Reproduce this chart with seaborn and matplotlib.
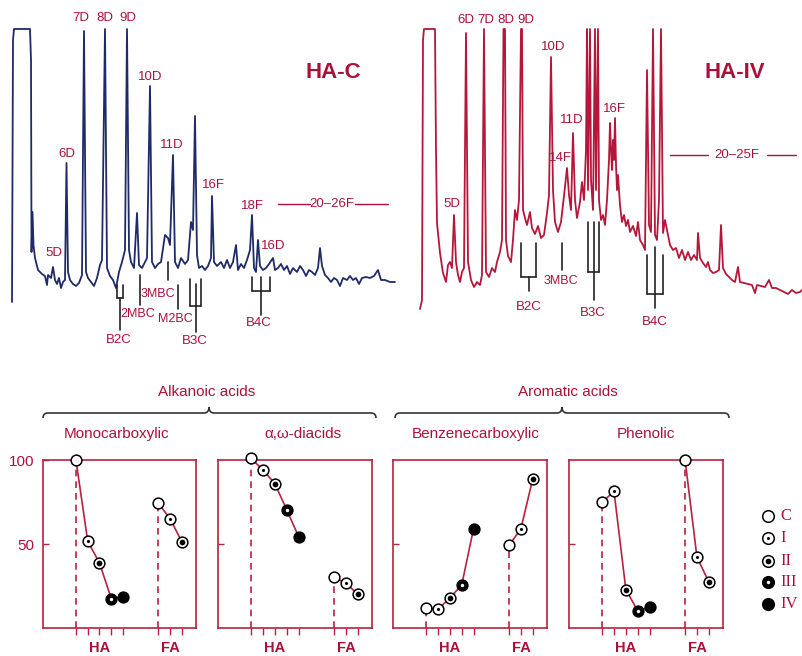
import numpy as np
import pandas as pd
import matplotlib.pyplot as plt
import seaborn as sns
from matplotlib.path import Path
from matplotlib.patches import PathPatch

sns.set_theme(style="white")
plt.rcParams['font.family'] = ['Liberation Sans', 'DejaVu Sans']

# colours
RED_TXT = "#a8123a"
RED_LN = "#b8213f"
NAVY = "#1f2a68"
CRIMSON = "#b5173a"

# ---- chromatogram traces (scan position, detector signal) ----
hac_x = [12, 13, 14, 30, 31, 31.5, 32.5, 33.5, 35, 38, 42, 45, 47, 48, 51, 53, 55, 57, 59, 61,
         63, 65, 66.5, 68, 70, 73, 76, 79, 82, 84, 86, 88, 91, 94, 97, 100, 102, 105, 107, 110,
         113, 116, 119, 122, 125, 127, 129, 131, 134, 137, 139, 142, 145, 147, 150, 152, 155, 158,
         161, 165, 168, 170, 173, 175, 178, 181, 185, 188, 191, 193, 195, 197, 199, 202, 205, 208,
         211, 212, 214, 217, 221, 224, 227, 230, 233, 236, 238, 241, 244, 247, 250, 252, 254, 256,
         258, 260, 263, 266, 269, 273, 275, 278, 281, 284, 287, 290, 293, 297, 300, 303, 306, 309,
         312, 315, 318, 320, 322, 325, 328, 331, 334, 337, 340, 343, 347, 350, 353, 356, 359, 362,
         366, 370, 374, 378, 381, 385, 390, 395]
hac_s = [0, 262, 273, 273, 242, 50, 90, 57, 44, 32, 28, 26, 17, 27, 24, 35, 22, 18, 24, 14,
         20, 22, 139, 30, 22, 18, 16, 19, 27, 271, 30, 24, 20, 16, 24, 37, 42, 273, 34, 26,
         22, 14, 30, 40, 52, 273, 52, 40, 34, 89, 37, 34, 40, 44, 216, 40, 34, 38,
         40, 67, 64, 57, 147, 40, 34, 44, 38, 42, 80, 72, 186, 47, 34, 36, 32, 36,
         44, 106, 40, 36, 40, 34, 42, 34, 40, 57, 32, 38, 34, 42, 52, 87, 34, 30,
         62, 36, 32, 34, 38, 44, 32, 34, 38, 32, 36, 28, 34, 30, 36, 32, 26, 32,
         30, 27, 34, 54, 36, 27, 24, 20, 24, 22, 16, 24, 22, 26, 22, 24, 18, 24,
         25, 24, 26, 32, 22, 22, 20, 20]

haiv_x = [420, 422, 423, 424, 435, 436, 437, 440, 443, 446, 448, 450, 452, 454, 456, 458, 460, 462,
          464, 466, 468, 471, 474, 477, 480, 482, 484, 486, 489, 492, 495, 497, 500, 502, 503.5, 505,
          506, 508, 511, 513, 515, 517, 519, 521, 522, 523, 525, 527, 530, 532, 535, 538, 541, 544,
          547, 549, 551, 553, 555, 558, 561, 564, 567, 569, 571, 573, 575, 577, 580, 582, 584, 586,
          587, 588, 590, 591, 593, 595, 596, 598, 599, 601, 603, 605, 607, 609, 610, 611, 612, 613,
          614, 615, 616, 617, 618, 620, 622, 624, 626, 628, 630, 633, 636, 638, 640, 643, 645, 647,
          649, 651, 653, 655, 657, 659, 661, 663, 665, 668, 670, 673, 676, 679, 682, 685, 688, 691,
          694, 697, 698, 700, 703, 706, 708, 710, 713, 716, 719, 721, 723, 726, 729, 732, 735, 738,
          740, 744, 748, 752, 755, 757, 761, 765, 769, 772, 776, 780, 784, 788, 792, 796, 800, 802]
haiv_s = [-7, 2, 262, 273, 273, 152, 79, 49, 29, 20, 37, 40, 34, 87, 40, 27, 20, 30,
          34, 269, 40, 22, 15, 20, 17, 27, 273, 30, 25, 34, 30, 40, 50, 62, 273, 273,
          62, 46, 40, 62, 92, 82, 102, 273, 273, 92, 84, 77, 90, 74, 68, 76, 64, 67,
          89, 107, 245, 112, 80, 70, 80, 106, 134, 107, 92, 169, 102, 84, 100, 120, 102, 152,
          273, 112, 273, 122, 92, 273, 112, 273, 102, 82, 87, 77, 102, 142, 179, 152, 132, 162,
          142, 184, 137, 112, 127, 97, 80, 87, 76, 82, 70, 76, 66, 80, 62, 57, 52, 232,
          77, 70, 273, 67, 62, 102, 273, 69, 82, 67, 57, 52, 54, 44, 52, 42, 50, 42,
          47, 42, 69, 44, 39, 35, 40, 32, 29, 30, 32, 77, 34, 28, 25, 22, 20, 35,
          20, 19, 18, 17, 9, 17, 16, 15, 22, 14, 14, 12, 10, 8, 12, 9, 10, 12]

# peak labels: (text, scan, signal)
hac_labels = [("7D", 81, 284), ("8D", 105, 284), ("9D", 128, 284), ("10D", 150, 225),
              ("6D", 67, 148), ("11D", 172, 157), ("16F", 213, 117), ("18F", 252, 96),
              ("16D", 273, 56), ("5D", 54, 49)]
haiv_labels = [("6D", 466, 282), ("7D", 486, 282), ("8D", 506, 282), ("9D", 526, 282),
               ("10D", 553, 255), ("11D", 572, 182), ("14F", 560, 144), ("16F", 614, 193),
               ("5D", 452, 98)]

# compound group markers: (label, prong scans, prong top, prong bottom, stem scan, stem top, stem bottom, label pos)
hac_groups = [("B2C", [117, 123], 17, 4, 120, 4, -28, (119, -38)),
              ("2MBC", [], 0, 0, 140, 27, -3, (138, -12)),
              ("3MBC", [], 0, 0, 168, 40, 22, (158, 8)),
              ("M2BC", [], 0, 0, 178, 17, -7, (175, -17)),
              ("B3C", [190, 201], 23, -4, 196, 18, -30, (195, -39)),
              ("B4C", [252, 270], 25, 11, 261, 25, -13, (259, -21))]
haiv_groups = [("B2C", [521, 536], 59, 25, 528.5, 25, 11, (529, -5)),
               ("3MBC", [], 0, 0, 562, 59, 32, (561, 21)),
               ("B3C", [588, 599], 80, 30, 593.5, 80, 2, (593, -11)),
               ("B4C", [647, 663], 47, 8, 655, 55, -6, (655, -20))]

# ---- relative abundance panels ----
levels = ["C", "I", "II", "III", "IV"]
ha_pos = [0, 1, 2, 3, 4]
fa_pos = [7, 8, 9]

mono_ha = [100, 51.6, 38.7, 17.5, 18.5]
mono_fa = [74.2, 65.1, 51.2]
diacid_ha = [101, 94.0, 85.9, 70.4, 54.4]
diacid_fa = [30.2, 26.6, 20.2]
benz_ha = [12.1, 11.1, 17.9, 25.6, 59.1]
benz_fa = [49.2, 59.1, 88.9]
phen_ha = [75.0, 81.3, 22.8, 10.3, 12.3]
phen_fa = [100, 42.3, 27.4]

panel_titles = ["Monocarboxylic", "α,ω-diacids", "Benzenecarboxylic", "Phenolic"]
panel_data = [(mono_ha, mono_fa), (diacid_ha, diacid_fa), (benz_ha, benz_fa), (phen_ha, phen_fa)]

marker_face = {"C": "white", "I": "white", "II": "white", "III": "black", "IV": "black"}
marker_dot = {"C": None, "I": ("black", 5), "II": ("black", 17), "III": ("white", 6), "IV": None}

W, H = 802, 656
fig = plt.figure(figsize=(W / 100, H / 100), dpi=100)


def fig_rect(x0, y0, x1, y1):
    return [x0 / W, 1 - y1 / H, (x1 - x0) / W, (y1 - y0) / H]


def draw_marker(ax, xs, ys, lv, size=60):
    sns.scatterplot(x=xs, y=ys, ax=ax, s=size, color=marker_face[lv], edgecolor="black",
                    linewidth=1.1, zorder=4, clip_on=False, legend=False)
    if marker_dot[lv] is not None:
        c, s = marker_dot[lv]
        sns.scatterplot(x=xs, y=ys, ax=ax, s=s, color=c, linewidth=0, zorder=5,
                        clip_on=False, legend=False)


# ---- top: chromatograms ----
ax_top = fig.add_axes(fig_rect(0, 0, 802, 350))
sns.lineplot(x=hac_x, y=hac_s, sort=False, estimator=None, color=NAVY, lw=1.3, ax=ax_top)
sns.lineplot(x=haiv_x, y=haiv_s, sort=False, estimator=None, color=CRIMSON, lw=1.3, ax=ax_top)
ax_top.set_xlim(0, 802)
ax_top.set_ylim(-48, 302)
ax_top.axis("off")

for lab, x, s in hac_labels + haiv_labels:
    ax_top.text(x, s, lab, color=RED_TXT, fontsize=9.5, ha="center", va="center")

for name, prongs, top, bot, sx, st, sb, (lx, ly) in hac_groups + haiv_groups:
    for px in prongs:
        ax_top.plot([px, px], [top, bot], color="#222222", lw=1.2)
    if prongs:
        ax_top.plot([prongs[0], prongs[-1]], [bot, bot], color="#222222", lw=1.2)
    ax_top.plot([sx, sx], [st, sb], color="#222222", lw=1.2)
    fs = 9.5 if name.startswith("B") else 9
    ax_top.text(lx, ly, name, color=RED_TXT, fontsize=fs, ha="center", va="center")

# range markers for the fatty acid series
ax_top.plot([278, 310], [98, 98], color=RED_TXT, lw=1.0)
ax_top.plot([355, 388], [98, 98], color=RED_TXT, lw=1.0)
ax_top.text(332, 98, "20–26F", color=RED_TXT, fontsize=9.5, ha="center", va="center")
ax_top.plot([670, 708], [147, 147], color=RED_TXT, lw=1.0)
ax_top.plot([767, 796], [147, 147], color=RED_TXT, lw=1.0)
ax_top.text(737, 147, "20–25F", color=RED_TXT, fontsize=9.5, ha="center", va="center")

ax_top.text(333, 230, "HA-C", color=RED_TXT, fontsize=16, fontweight="bold", ha="center", va="center")
ax_top.text(735, 230, "HA-IV", color=RED_TXT, fontsize=16, fontweight="bold", ha="center", va="center")

# ---- bottom: panels ----
panel_px = [(43, 196), (218, 372), (393, 547), (569, 723)]
for i, ((x0, x1), title, (ha_vals, fa_vals)) in enumerate(zip(panel_px, panel_titles, panel_data)):
    ax = fig.add_axes(fig_rect(x0, 460, x1, 628))
    ax.set_xlim(-2.8, 10.2)
    ax.set_ylim(0, 100)
    ax.set_facecolor("white")
    for sp in ax.spines.values():
        sp.set_color(RED_LN)
        sp.set_linewidth(1.2)

    for pos, vals in ((ha_pos, ha_vals), (fa_pos, fa_vals)):
        ax.vlines(pos[0], 0, vals[0], colors=RED_LN, linestyles=(0, (4, 3)), lw=1.2, zorder=2)
        sns.lineplot(x=pos, y=vals, sort=False, estimator=None, color=RED_LN, lw=1.2, ax=ax, zorder=3)
        for p, v, lv in zip(pos, vals, levels):
            draw_marker(ax, [p], [v], lv)

    ax.set_xticks(ha_pos + fa_pos)
    ax.set_xticklabels([])
    ax.tick_params(axis="x", direction="out", length=5, width=1, color=RED_LN, bottom=True)
    if i == 0:
        ax.set_yticks([50, 100])
        ax.set_yticklabels(["50", "100"], color=RED_TXT, fontsize=11)
    else:
        ax.set_yticks([50])
        ax.set_yticklabels([])
    ax.tick_params(axis="y", direction="in", length=4, width=1, color=RED_LN, left=True, pad=6)
    ax.set_xlabel("")
    ax.set_ylabel("")

    ax.text(2, -0.12, "HA", transform=ax.get_xaxis_transform(), color=RED_TXT, fontsize=10.5,
            fontweight="bold", ha="center", va="center")
    ax.text(8, -0.12, "FA", transform=ax.get_xaxis_transform(), color=RED_TXT, fontsize=10.5,
            fontweight="bold", ha="center", va="center")

# ---- overlay: headings, braces, legend ----
ov = fig.add_axes([0, 0, 1, 1])
ov.set_xlim(0, W)
ov.set_ylim(H, 0)
ov.axis("off")
ov.patch.set_alpha(0)

sub_x = [117, 303, 476, 646]
for t, x in zip(panel_titles, sub_x):
    ov.text(x, 434, t, color=RED_TXT, fontsize=11, ha="center", va="center")

ov.text(207, 392, "Alkanoic acids", color=RED_TXT, fontsize=11, ha="center", va="center")
ov.text(568, 392, "Aromatic acids", color=RED_TXT, fontsize=11, ha="center", va="center")


def brace(ax, x0, x1, xc, y, r=5, tip=6):
    verts = [(x0, y + r), (x0, y), (x0 + r, y), (xc - r, y), (xc, y), (xc, y - tip),
             (xc, y), (xc + r, y), (x1 - r, y), (x1, y), (x1, y + r)]
    codes = [Path.MOVETO, Path.CURVE3, Path.CURVE3, Path.LINETO, Path.CURVE3, Path.CURVE3,
             Path.CURVE3, Path.CURVE3, Path.LINETO, Path.CURVE3, Path.CURVE3]
    ax.add_patch(PathPatch(Path(verts, codes), fill=False, edgecolor="#333333", lw=1.2))


brace(ov, 43, 376, 209, 413)
brace(ov, 395, 729, 562, 413)

leg_y = [516, 538, 561, 582, 604]
for lv, y in zip(levels, leg_y):
    draw_marker(ov, [768], [y], lv, size=70)
    ov.text(780, y, lv, color=RED_TXT, fontsize=12, ha="left", va="center",
            family=["Liberation Serif", "DejaVu Serif"])

fig.savefig("out.png", dpi=100)
